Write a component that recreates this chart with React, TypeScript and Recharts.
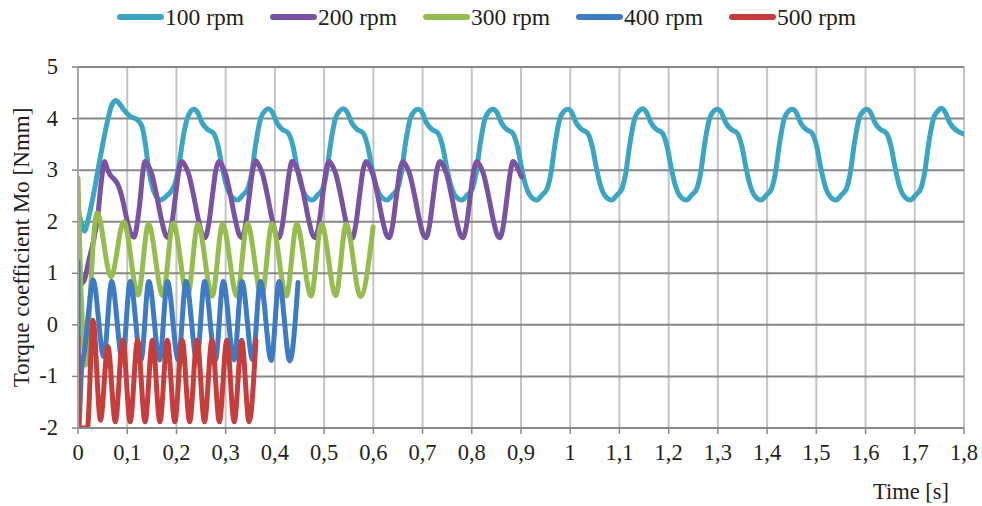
import React from 'react';
import { LineChart, Line, XAxis, YAxis, CartesianGrid, Legend } from 'recharts';

const FONT = '"Liberation Serif", "Times New Roman", Times, serif';
const TEXT = '#1e1e1e';

const seriesNames = ['100 rpm', '200 rpm', '300 rpm', '400 rpm', '500 rpm'];
const seriesColors = ['#3ba6c4', '#7b52a1', '#95bd4d', '#3e7bc5', '#c73d3b'];

const xTicks = [0, 0.1, 0.2, 0.3, 0.4, 0.5, 0.6, 0.7, 0.8, 0.9, 1, 1.1, 1.2, 1.3, 1.4, 1.5, 1.6, 1.7, 1.8];
const yTicks = [-2, -1, 0, 1, 2, 3, 4, 5];

// [time s, torque coefficient Nmm]
const rpm100: number[][] = [
  [0, 2.25], [0.006, 2.0], [0.013, 1.82], [0.022, 2.1], [0.032, 2.55], [0.0455, 3.26], [0.059, 3.91], [0.069, 4.27],
  [0.077, 4.35], [0.085, 4.28], [0.093, 4.17], [0.1065, 4.04], [0.12, 3.98], [0.13, 3.85], [0.137, 3.5], [0.144, 3.0],
  [0.151, 2.68], [0.158, 2.5], [0.167, 2.42], [0.18, 2.5], [0.19, 2.6], [0.199, 2.8], [0.206, 3.15], [0.213, 3.6],
  [0.222, 4.0], [0.229, 4.14],
  [0.235, 4.18], [0.243, 4.12], [0.252, 3.92], [0.263, 3.79], [0.275, 3.72], [0.285, 3.45], [0.293, 3.05], [0.301, 2.72],
  [0.311, 2.5], [0.324, 2.42], [0.335, 2.52], [0.345, 2.64], [0.353, 2.95], [0.361, 3.5], [0.371, 4.0], [0.38, 4.15],
  [0.387, 4.19], [0.395, 4.12], [0.404, 3.92], [0.415, 3.79], [0.427, 3.72], [0.437, 3.45], [0.445, 3.05], [0.453, 2.72],
  [0.463, 2.5], [0.476, 2.42], [0.487, 2.52], [0.497, 2.64], [0.505, 2.95], [0.513, 3.5], [0.523, 4.0], [0.532, 4.15],
  [0.539, 4.19], [0.547, 4.12], [0.556, 3.92], [0.567, 3.79], [0.579, 3.72], [0.589, 3.45], [0.597, 3.05], [0.605, 2.72],
  [0.615, 2.5], [0.628, 2.42], [0.639, 2.52], [0.649, 2.64], [0.657, 2.95], [0.665, 3.5], [0.675, 4.0], [0.684, 4.15],
  [0.691, 4.18], [0.699, 4.12], [0.708, 3.92], [0.719, 3.79], [0.731, 3.72], [0.741, 3.45], [0.749, 3.05], [0.757, 2.72],
  [0.767, 2.5], [0.78, 2.42], [0.791, 2.52], [0.801, 2.64], [0.809, 2.95], [0.817, 3.5], [0.827, 4.0], [0.836, 4.15],
  [0.843, 4.18], [0.851, 4.12], [0.86, 3.92], [0.871, 3.79], [0.883, 3.72], [0.893, 3.45], [0.901, 3.05], [0.909, 2.72],
  [0.919, 2.5], [0.932, 2.42], [0.943, 2.52], [0.953, 2.64], [0.961, 2.95], [0.969, 3.5], [0.979, 4.0], [0.988, 4.15],
  [0.995, 4.18], [1.003, 4.12], [1.012, 3.92], [1.023, 3.79], [1.035, 3.72], [1.045, 3.45], [1.053, 3.05], [1.061, 2.72],
  [1.071, 2.5], [1.084, 2.42], [1.095, 2.52], [1.105, 2.64], [1.113, 2.95], [1.121, 3.5], [1.131, 4.0], [1.14, 4.15],
  [1.147, 4.19], [1.155, 4.12], [1.164, 3.92], [1.175, 3.79], [1.187, 3.72], [1.197, 3.45], [1.205, 3.05], [1.213, 2.72],
  [1.223, 2.5], [1.236, 2.42], [1.247, 2.52], [1.257, 2.64], [1.265, 2.95], [1.273, 3.5], [1.283, 4.0], [1.292, 4.15],
  [1.299, 4.18], [1.307, 4.12], [1.316, 3.92], [1.327, 3.79], [1.339, 3.72], [1.349, 3.45], [1.357, 3.05], [1.365, 2.72],
  [1.375, 2.5], [1.388, 2.42], [1.399, 2.52], [1.409, 2.64], [1.417, 2.95], [1.425, 3.5], [1.435, 4.0], [1.444, 4.15],
  [1.451, 4.18], [1.459, 4.12], [1.468, 3.92], [1.479, 3.79], [1.491, 3.72], [1.501, 3.45], [1.509, 3.05], [1.517, 2.72],
  [1.527, 2.5], [1.54, 2.42], [1.551, 2.52], [1.561, 2.64], [1.569, 2.95], [1.577, 3.5], [1.587, 4.0], [1.596, 4.15],
  [1.602, 4.18], [1.61, 4.12], [1.619, 3.92], [1.63, 3.79], [1.642, 3.72], [1.652, 3.45], [1.66, 3.05], [1.668, 2.72],
  [1.678, 2.5], [1.691, 2.42], [1.702, 2.52], [1.712, 2.64], [1.72, 2.95], [1.728, 3.5], [1.738, 4.0], [1.747, 4.15],
  [1.754, 4.2], [1.762, 4.12], [1.771, 3.92], [1.782, 3.79], [1.794, 3.72], [1.8, 3.7],
];

const rpm200: number[][] = [
  [0, 1.25], [0.005, 0.8], [0.012, 0.85], [0.022, 1.25], [0.032, 1.65], [0.04, 2.1], [0.047, 2.75], [0.054, 3.17],
  [0.06, 3.0], [0.066, 2.9], [0.074, 2.82], [0.082, 2.7], [0.09, 2.45], [0.098, 2.1], [0.106, 1.8], [0.114, 1.7],
  [0.12, 1.95], [0.126, 2.4], [0.131, 2.9],
  [0.136, 3.17], [0.142, 3.1], [0.15, 2.92], [0.16, 2.5], [0.17, 2.02], [0.177, 1.76], [0.183, 1.69], [0.19, 1.92], [0.198, 2.5], [0.205, 3.0],
  [0.211, 3.17], [0.217, 3.1], [0.225, 2.92], [0.235, 2.5], [0.245, 2.02], [0.252, 1.76], [0.258, 1.69], [0.265, 1.92], [0.273, 2.5], [0.28, 3.0],
  [0.286, 3.17], [0.292, 3.1], [0.3, 2.92], [0.31, 2.5], [0.32, 2.02], [0.327, 1.76], [0.333, 1.69], [0.34, 1.92], [0.348, 2.5], [0.355, 3.0],
  [0.361, 3.18], [0.367, 3.1], [0.375, 2.92], [0.385, 2.5], [0.395, 2.02], [0.402, 1.76], [0.408, 1.69], [0.415, 1.92], [0.423, 2.5], [0.43, 3.0],
  [0.435, 3.17], [0.441, 3.1], [0.449, 2.92], [0.459, 2.5], [0.469, 2.02], [0.476, 1.76], [0.482, 1.69], [0.489, 1.92], [0.497, 2.5], [0.504, 3.0],
  [0.51, 3.17], [0.516, 3.1], [0.524, 2.92], [0.534, 2.5], [0.544, 2.02], [0.551, 1.76], [0.557, 1.68], [0.564, 1.92], [0.572, 2.5], [0.579, 3.0],
  [0.585, 3.17], [0.591, 3.1], [0.599, 2.92], [0.609, 2.5], [0.619, 2.02], [0.626, 1.76], [0.632, 1.69], [0.639, 1.92], [0.647, 2.5], [0.654, 3.0],
  [0.66, 3.17], [0.666, 3.1], [0.674, 2.92], [0.684, 2.5], [0.694, 2.02], [0.701, 1.76], [0.707, 1.69], [0.714, 1.92], [0.722, 2.5], [0.729, 3.0],
  [0.735, 3.17], [0.741, 3.1], [0.749, 2.92], [0.759, 2.5], [0.769, 2.02], [0.776, 1.76], [0.782, 1.69], [0.789, 1.92], [0.797, 2.5], [0.804, 3.0],
  [0.81, 3.17], [0.816, 3.1], [0.824, 2.92], [0.834, 2.5], [0.844, 2.02], [0.851, 1.76], [0.857, 1.69], [0.864, 1.92], [0.872, 2.5], [0.879, 3.0],
  [0.884, 3.17], [0.89, 3.1], [0.896, 2.98], [0.901, 2.87],
];

const rpm300: number[][] = [
  [0, 2.85], [0.004, 1.3], [0.009, 0.0], [0.016, -0.78], [0.024, 0.4], [0.031, 1.6], [0.039, 2.17],
  [0.067, 0.93], [0.093, 2.0], [0.122, 0.58], [0.1432, 1.95], [0.1723, 0.57], [0.1934, 1.97], [0.2225, 0.56],
  [0.2436, 1.95], [0.2727, 0.56], [0.2938, 1.95], [0.3229, 0.56], [0.344, 1.96], [0.3731, 0.56], [0.3942, 1.96],
  [0.4233, 0.56], [0.4444, 1.95], [0.4735, 0.56], [0.4946, 1.95], [0.5237, 0.57], [0.5448, 1.95], [0.5739, 0.55],
  [0.5996, 1.9],
];

const rpm400: number[][] = [
  [0, 1.23], [0.0015, -2.0], [0.007, -0.9], [0.014, -0.45], [0.022, 0.3], [0.0305, 0.87],
  [0.0524, -0.62], [0.0683, 0.84], [0.0902, -0.68], [0.1061, 0.84], [0.128, -0.68], [0.1439, 0.84], [0.1658, -0.68],
  [0.1817, 0.84], [0.2036, -0.68], [0.2195, 0.84], [0.2414, -0.68], [0.2573, 0.84], [0.2792, -0.68], [0.2951, 0.84],
  [0.317, -0.68], [0.3329, 0.84], [0.3548, -0.68], [0.3707, 0.84], [0.3926, -0.69], [0.4085, 0.84], [0.4304, -0.7],
  [0.447, 0.82],
];

const rpm500: number[][] = [
  [0, -0.22], [0.0015, -2.0], [0.019, -2.0], [0.0305, 0.09],
  [0.0456, -1.85], [0.0607, -0.42], [0.0758, -1.88], [0.0909, -0.3], [0.106, -1.88], [0.1211, -0.3], [0.1362, -1.88],
  [0.1513, -0.3], [0.1664, -1.88], [0.1815, -0.3], [0.1966, -1.88], [0.2117, -0.3], [0.2268, -1.88], [0.2419, -0.3],
  [0.257, -1.88], [0.2721, -0.3], [0.2872, -1.88], [0.3023, -0.3], [0.3174, -1.88], [0.3325, -0.3], [0.3476, -1.88],
  [0.3615, -0.3],
];

const seriesPoints = [rpm100, rpm200, rpm300, rpm400, rpm500];
const toRows = (pts: number[][]) => pts.map(([t, v]) => ({ t, v }));

const fmtX = (v: number) => String(v).replace('.', ',');

function LegendContent() {
  return (
    <div style={{ position: 'relative', width: 982, height: 34, fontFamily: FONT, fontSize: 23.5, color: TEXT }}>
      {seriesNames.map((n, i) => (
        <div
          key={n}
          style={{ position: 'absolute', left: 116 + i * 153, top: 0, height: 34, display: 'flex', alignItems: 'center', whiteSpace: 'nowrap' }}
        >
          <svg width={49} height={10} style={{ display: 'block' }}>
            <line x1={4} y1={5} x2={45} y2={5} stroke={seriesColors[i]} strokeWidth={6} strokeLinecap="round" />
          </svg>
          <span>{n}</span>
        </div>
      ))}
    </div>
  );
}

const XTick = (props: any) => {
  const { x, y, payload } = props;
  return (
    <text x={x} y={y + 24} textAnchor="middle" fontFamily={FONT} fontSize={22.5} fill={TEXT}>
      {fmtX(payload.value)}
    </text>
  );
};

const YTick = (props: any) => {
  const { x, y, payload } = props;
  return (
    <text x={x} y={y + 7} textAnchor="end" fontFamily={FONT} fontSize={22.5} fill={TEXT}>
      {String(payload.value)}
    </text>
  );
};

const YTitle = (props: any) => {
  const vb = props.viewBox || { x: 0, y: 67, width: 0, height: 361 };
  const cy = vb.y + vb.height / 2;
  const cx = 21;
  return (
    <text x={cx} y={cy} transform={`rotate(-90, ${cx}, ${cy})`} textAnchor="middle" dominantBaseline="central"
      fontFamily={FONT} fontSize={23} fill={TEXT}>
      Torque coefficient Mo [Nmm]
    </text>
  );
};

const XTitle = (props: any) => {
  const vb = props.viewBox || { x: 78, y: 428, width: 886, height: 30 };
  return (
    <text x={vb.x + vb.width - 15} y={499} textAnchor="end" fontFamily={FONT} fontSize={22.5} fill={TEXT}>
      Time [s]
    </text>
  );
};

export default function App() {
  return (
    <div style={{ position: 'absolute', left: 0, top: 0, width: 982, height: 506, background: '#ffffff' }}>
      <LineChart width={982} height={506} margin={{ top: 33, right: 18, bottom: 48, left: 28 }}>
        <CartesianGrid horizontal={false} stroke="#c4c4c4" strokeWidth={2} />
        <CartesianGrid vertical={false} stroke="#878787" strokeWidth={2} />
        <XAxis
          type="number"
          dataKey="t"
          domain={[0, 1.8]}
          ticks={xTicks}
          interval={0}
          allowDataOverflow
          height={30}
          axisLine={{ stroke: '#878787', strokeWidth: 2 }}
          tickLine={{ stroke: '#878787', strokeWidth: 1.5 }}
          tickSize={6}
          tick={XTick}
          label={{ content: XTitle }}
        />
        <YAxis
          type="number"
          domain={[-2, 5]}
          ticks={yTicks}
          interval={0}
          allowDataOverflow
          width={50}
          axisLine={{ stroke: '#a8a8a8', strokeWidth: 2 }}
          tickLine={{ stroke: '#878787', strokeWidth: 1.5 }}
          tickSize={6}
          tickMargin={14}
          tick={YTick}
          label={{ content: YTitle }}
        />
        <Legend
          verticalAlign="top"
          align="left"
          content={() => <LegendContent />}
          wrapperStyle={{ top: 0, left: 0, width: 982, height: 34, margin: 0, padding: 0 }}
        />
        {seriesPoints.map((pts, i) => (
          <Line
            key={seriesNames[i]}
            name={seriesNames[i]}
            data={toRows(pts)}
            dataKey="v"
            type="monotone"
            stroke={seriesColors[i]}
            strokeWidth={5}
            strokeLinejoin="round"
            strokeLinecap="round"
            dot={false}
            activeDot={false}
            isAnimationActive={false}
          />
        ))}
      </LineChart>
    </div>
  );
}
